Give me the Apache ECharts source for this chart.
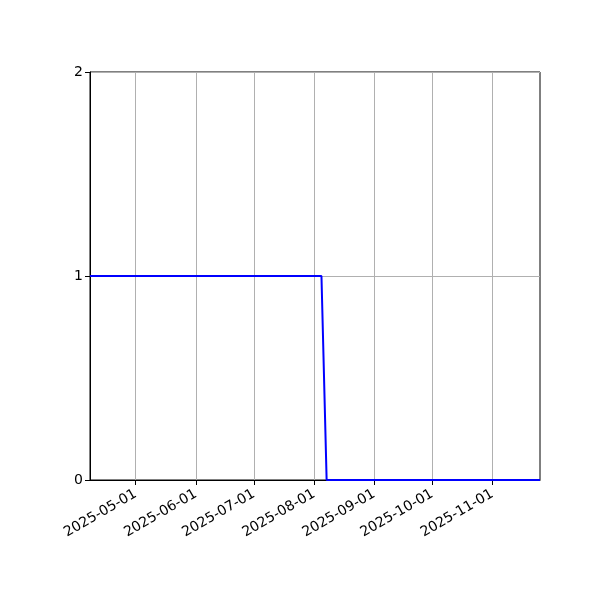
<!DOCTYPE html>
<html>
<head>
<meta charset="utf-8">
<script src="https://cdn.jsdelivr.net/npm/echarts@6/dist/echarts.min.js"></script>
<style>html,body{margin:0;padding:0;background:#fff}#c{width:600px;height:600px}</style>
</head>
<body>
<div id="c"></div>
<script>
const dates = ['2025-04-07T10:00', '2025-08-04T20:00', '2025-08-07T12:00', '2025-11-25T14:00'];
const values = [1, 1, 0, 0];
const monthTicks = ['2025-05-01','2025-06-01','2025-07-01','2025-08-01','2025-09-01','2025-10-01','2025-11-01'];
const yTicks = [0, 1, 2];

const ts = s => new Date(s).getTime();
const monthTs = monthTicks.map(s => new Date(s + 'T00:00').getTime());
const chart = echarts.init(document.getElementById('c'));
const fmt = v => { const d = new Date(v); const p = n => String(n).padStart(2,'0'); return d.getFullYear()+'-'+p(d.getMonth()+1)+'-'+p(d.getDate()); };
chart.setOption({
  animation: false,
  grid: { left: 90, right: 60, top: 72, bottom: 120, show: true, borderColor: '#000', borderWidth: 1, backgroundColor: 'transparent' },
  xAxis: {
    type: 'value',
    min: ts(dates[0]), max: ts(dates[dates.length-1]),
    axisLine: { show: true, onZero: false, lineStyle: { color: '#000', width: 1 } },
    axisTick: { show: true, inside: false, length: 5, lineStyle: { color: '#000' }, customValues: monthTs },
    axisLabel: { customValues: monthTs, formatter: fmt, rotate: 30, color: '#000', fontSize: 14, fontFamily: 'DejaVu Sans', margin: 13 },
    splitLine: { show: false }
  },
  yAxis: {
    type: 'value', min: 0, max: 2, interval: 1,
    axisLine: { show: true, lineStyle: { color: '#000', width: 1 } },
    axisTick: { show: true, length: 5, lineStyle: { color: '#000' } },
    axisLabel: { color: '#000', fontSize: 14, fontFamily: 'DejaVu Sans', margin: 7, formatter: v => yTicks.includes(v) ? String(v) : '' },
    splitLine: { show: true, lineStyle: { color: '#b0b0b0', width: 1 } }
  },
  series: [{
    type: 'line',
    data: dates.map((d, i) => [ts(d), values[i]]),
    showSymbol: false,
    lineStyle: { color: '#0000ff', width: 2 },
    z: 5,
    markLine: {
      silent: true, symbol: 'none', label: { show: false },
      lineStyle: { color: '#b0b0b0', width: 1, type: 'solid' },
      data: monthTs.map(t => ({ xAxis: t }))
    }
  }]
});
</script>
</body>
</html>
